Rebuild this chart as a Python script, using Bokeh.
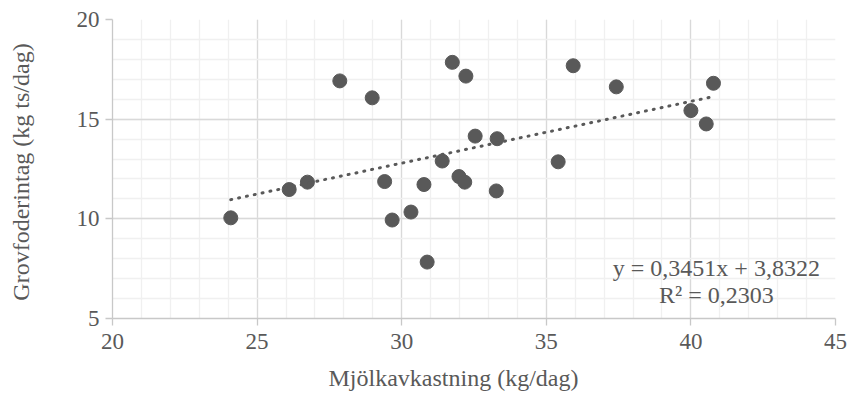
import numpy as np
from bokeh.plotting import figure
from bokeh.models import SingleIntervalTicker, Label, Title
from bokeh.embed import file_html
from bokeh.resources import INLINE

# Data
mjolk = [27.86, 28.98, 31.75, 32.22, 32.54, 33.30, 31.40, 29.41, 30.77, 31.98, 32.18, 33.27,
         26.11, 26.74, 24.09, 29.67, 30.32, 30.88, 35.93, 37.42, 40.78, 40.00, 40.53, 35.41]
grovfoder = [16.92, 16.07, 17.85, 17.16, 14.15, 14.02, 12.90, 11.87, 11.72, 12.12, 11.84, 11.40,
             11.47, 11.84, 10.05, 9.94, 10.34, 7.83, 17.68, 16.62, 16.80, 15.43, 14.76, 12.86]
x_title = "Mjölkavkastning (kg/dag)"
y_title = "Grovfoderintag  (kg ts/dag)"
eq_text = "y = 0,3451x + 3,8322"
r2_text = "R² = 0,2303"

FONT = "'Liberation Serif'"
TXT = "#595959"

p = figure(width=848, height=412, x_range=(20, 45), y_range=(5, 20),
           output_backend="svg", toolbar_location=None,
           min_border_left=112, min_border_right=13, min_border_top=19, min_border_bottom=94)
p.outline_line_color = None
p.background_fill_color = "white"
p.border_fill_color = "white"

p.xaxis.ticker = SingleIntervalTicker(interval=5, num_minor_ticks=5)
p.yaxis.ticker = SingleIntervalTicker(interval=5, num_minor_ticks=5)

for g in (p.xgrid, p.ygrid):
    g.grid_line_color = "#d9d9d9"
    g.grid_line_width = 1.3
    g.minor_grid_line_color = "#f0f0f0"
    g.minor_grid_line_width = 1.3

for ax in (p.xaxis, p.yaxis):
    ax.axis_line_color = "#c8c8c8"
    ax.axis_line_width = 1.3
    ax.major_tick_line_color = "#c8c8c8"
    ax.major_tick_line_width = 1.3
    ax.major_tick_out = 7
    ax.major_tick_in = 0
    ax.minor_tick_line_color = None
    ax.major_label_text_font = FONT
    ax.major_label_text_font_size = "23px"
    ax.major_label_text_color = TXT
    ax.axis_label_text_font = FONT
    ax.axis_label_text_font_size = "24px"
    ax.axis_label_text_font_style = "normal"
    ax.axis_label_text_color = TXT

p.yaxis.axis_label = y_title
p.xaxis.major_label_standoff = 8
p.yaxis.major_label_standoff = 6
p.yaxis.axis_label_standoff = 40

# x-axis title placed like the reference (left of the frame centre)
p.add_layout(Title(text=x_title, align="left", offset=216, standoff=22,
                   text_font=FONT, text_font_size="24px", text_font_style="normal",
                   text_color=TXT), "below")

# trend line (least squares on the data)
slope, intercept = np.polyfit(mjolk, grovfoder, 1)
tx = np.array([min(mjolk), max(mjolk)])
ty = slope * tx + intercept

p.scatter(mjolk, grovfoder, size=14, fill_color="#595959", line_color="#595959")
p.line(tx, ty, line_width=3, line_dash="1 7", line_cap="round", line_color="#595959")

p.add_layout(Label(x=40.88, y=7.54, text=eq_text, text_align="center", text_baseline="middle",
                   text_font=FONT, text_font_size="24px", text_color=TXT))
p.add_layout(Label(x=40.88, y=6.18, text=r2_text, text_align="center", text_baseline="middle",
                   text_font=FONT, text_font_size="24px", text_color=TXT))

open("out.html", "w").write(file_html(p, INLINE))
